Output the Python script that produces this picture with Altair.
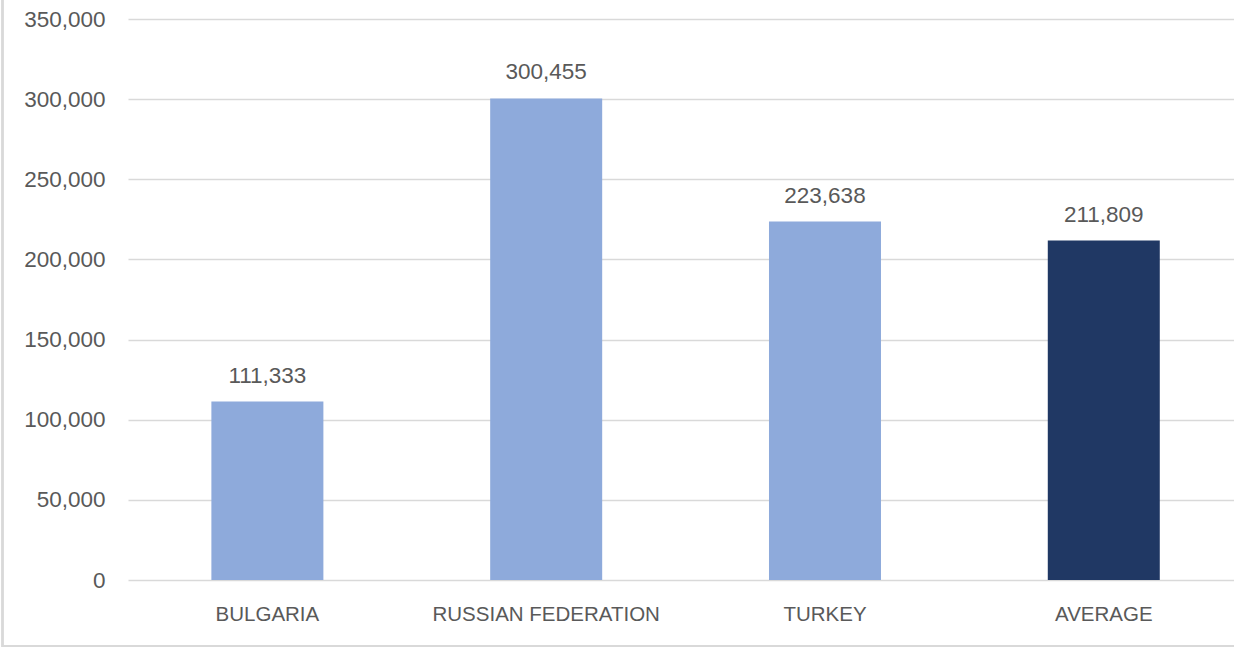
import altair as alt
import pandas as pd

categories = ["BULGARIA", "RUSSIAN FEDERATION", "TURKEY", "AVERAGE"]
values = [111333, 300455, 223638, 211809]
kinds = ["country", "country", "country", "average"]

df = pd.DataFrame({"category": categories, "value": values, "kind": kinds})

FONT = "Liberation Sans"
TXT = "#595959"

x = alt.X("category:N", sort=categories, title=None,
          scale=alt.Scale(paddingInner=0.6, paddingOuter=0.2835, align=0.529),
          axis=alt.Axis(labelAngle=0, labelFont=FONT, labelFontSize=20.5, labelColor=TXT,
                        labelPadding=24, labelLimit=0, ticks=False, domain=False, grid=False))
y = alt.Y("value:Q", title=None,
          scale=alt.Scale(domain=[0, 350000], nice=False),
          axis=alt.Axis(values=[0, 50000, 100000, 150000, 200000, 250000, 300000, 350000],
                        format=",d", labelFont=FONT, labelFontSize=22.5, labelColor=TXT,
                        labelPadding=23, ticks=False, domain=False,
                        gridColor="#d9d9d9", gridWidth=1.5))

bars = alt.Chart(df).mark_bar(size=112).encode(
    x=x, y=y,
    color=alt.Color("kind:N", scale=alt.Scale(domain=["country", "average"],
                                              range=["#8eaadb", "#203864"]), legend=None),
)

labels = alt.Chart(df).mark_text(dy=-19, font=FONT, fontSize=22.5, color=TXT,
                                 baseline="alphabetic").encode(
    x=alt.X("category:N", sort=categories),
    y="value:Q",
    text=alt.Text("value:Q", format=","),
)

border_left = alt.Chart(df).mark_rule(color="#d9d9d9", strokeWidth=2).encode(
    x=alt.value(-125.5), y=alt.value(-19), y2=alt.value(628))
border_bottom = alt.Chart(df).mark_rule(color="#d9d9d9", strokeWidth=2).encode(
    x=alt.value(-126), x2=alt.value(1106), y=alt.value(627))

chart = alt.layer(bars, labels, border_left, border_bottom).properties(
    width=1106, height=561,
    autosize=alt.AutoSizeParams(type="none"),
    padding={"left": 128, "top": 19, "right": 0, "bottom": 67},
    background="white",
).configure_view(stroke=None)

chart.save("out.html", embed_options={"renderer": "svg", "actions": False})
